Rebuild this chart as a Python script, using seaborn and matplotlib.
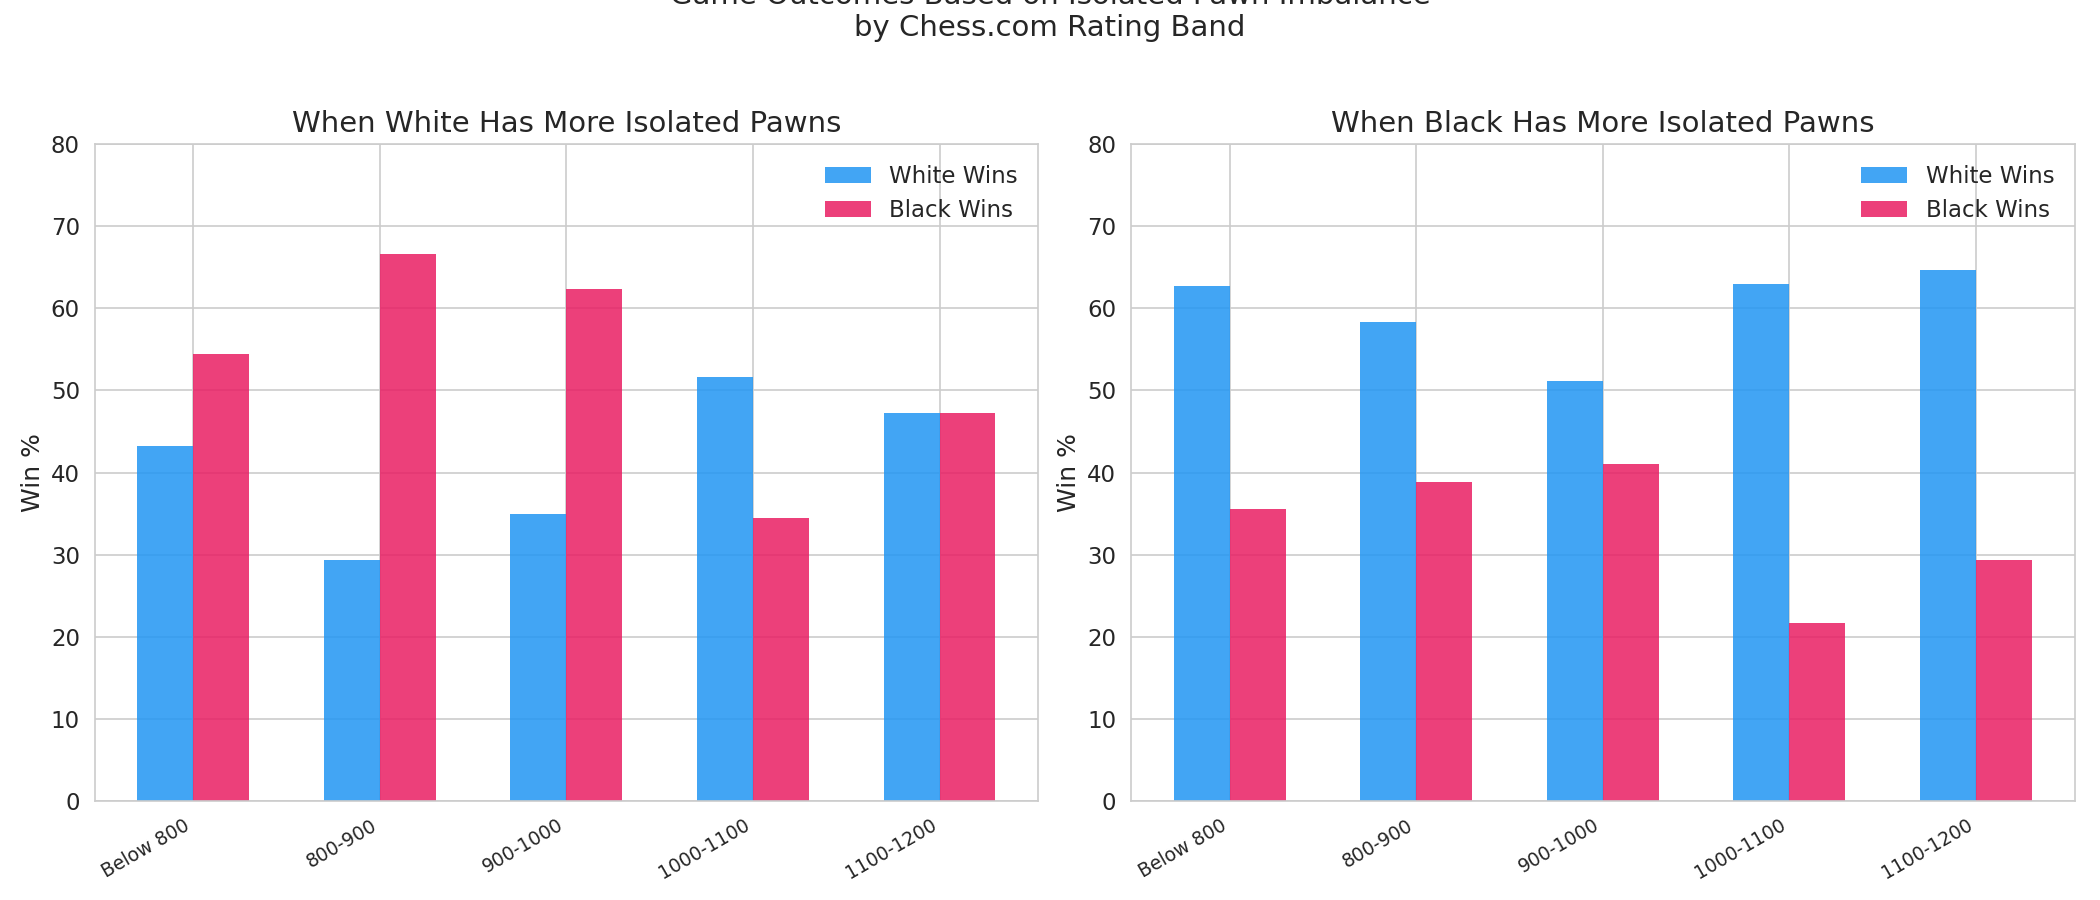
import pandas as pd
import matplotlib
matplotlib.use('Agg')
import matplotlib.pyplot as plt
import seaborn as sns

# rating bands and win percentages
bands = ['Below 800', '800-900', '900-1000', '1000-1100', '1100-1200']
white_more_white_wins = [43.2, 29.3, 34.9, 51.6, 47.3]
white_more_black_wins = [54.4, 66.6, 62.4, 34.4, 47.3]
black_more_white_wins = [62.7, 58.3, 51.2, 62.9, 64.6]
black_more_black_wins = [35.6, 38.9, 41.0, 21.7, 29.4]

outcomes = ['White Wins', 'Black Wins']
colors = {'White Wins': '#2196F3', 'Black Wins': '#E91E63'}


def long_frame(white_wins, black_wins):
    return pd.DataFrame({
        'Band': bands * 2,
        'Outcome': [outcomes[0]] * len(bands) + [outcomes[1]] * len(bands),
        'Win %': white_wins + black_wins,
    })


panels = [
    ('When White Has More Isolated Pawns', long_frame(white_more_white_wins, white_more_black_wins)),
    ('When Black Has More Isolated Pawns', long_frame(black_more_white_wins, black_more_black_wins)),
]

sns.set_style('whitegrid')
fig, axes = plt.subplots(1, 2, figsize=(14, 6), dpi=150)

for ax, (title, df) in zip(axes, panels):
    sns.barplot(data=df, x='Band', y='Win %', hue='Outcome', hue_order=outcomes,
                palette=colors, width=0.6, saturation=1, alpha=0.85,
                linewidth=0, ax=ax)
    ax.set_title(title, fontsize=14)
    ax.set_xlabel('')
    ax.set_ylabel('Win %', fontsize=12, labelpad=3)
    ax.set_ylim(0, 80)
    ax.xaxis.grid(True)
    ax.set_autoscalex_on(True)
    ax.autoscale_view(scaley=False)
    ax.tick_params(axis='y', labelsize=11)
    plt.setp(ax.get_xticklabels(), rotation=30, ha='right', fontsize=9)
    sns.move_legend(ax, 'upper right', title=None, frameon=False, fontsize=11)

fig.suptitle('Game Outcomes Based on Isolated Pawn Imbalance\nby Chess.com Rating Band',
             fontsize=14, y=1.02)
fig.subplots_adjust(left=0.045, right=0.988, top=0.84, bottom=0.11, wspace=0.098)
plt.savefig('out.png')
